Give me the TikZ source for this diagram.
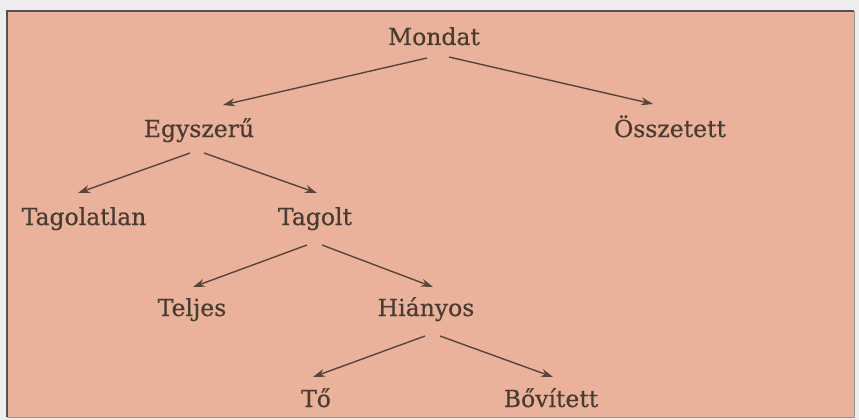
\documentclass[tikz,border=0pt]{standalone}
\usepackage{fontspec}
\newfontfamily\lblfont[FakeBold=0.5]{DejaVu Serif}
\usetikzlibrary{arrows.meta,calc}
\definecolor{outerbg}{RGB}{238,238,240}
\definecolor{panel}{RGB}{234,178,155}
\definecolor{frame}{RGB}{85,82,80}
\definecolor{ink}{RGB}{70,60,50}
\definecolor{arrowink}{RGB}{84,70,60}
\tikzset{
  lbl/.style={anchor=base,inner sep=0pt,text=ink,font=\lblfont\fontsize{23.5}{28}\selectfont},
  conn/.style={draw=arrowink,line width=1.4pt,-{Stealth[length=12pt,width=8pt]}}
}
\begin{document}
\begin{tikzpicture}[x=1pt,y=-1pt]
\fill[outerbg] (0,0) rectangle (859,420);
\useasboundingbox (0,0) rectangle (859,420);
\fill[panel] (7,11) rectangle (854,417);
\draw[frame,line width=2pt] (7,417) -- (7,11) -- (854,11);
\draw[frame!60,line width=1pt] (854,11) -- (854,417) -- (7,417);

\node[lbl] (mondat) at (434,45) {Mondat};
\node[lbl] (egy) at (199,137) {Egyszerű};
\node[lbl] (ossz) at (670,137) {Összetett};
\node[lbl] (tagolatlan) at (84,225) {Tagolatlan};
\node[lbl] (tagolt) at (315,225) {Tagolt};
\node[lbl] (teljes) at (192,316) {Teljes};
\node[lbl] (hianyos) at (426,316) {Hiányos};
\node[lbl] (to) at (316,407) {Tő};
\node[lbl] (bov) at (551,407) {Bővített};

\draw[conn] ($(mondat.base)+(-7,13)$) -- ($(egy.base)+(24,-32)$);
\draw[conn] ($(mondat.base)+(15,12)$) -- ($(ossz.base)+(-17,-33)$);
\draw[conn] ($(egy.base)+(-9,16)$) -- ($(tagolatlan.base)+(-6,-32)$);
\draw[conn] ($(egy.base)+(5,16)$) -- ($(tagolt.base)+(2,-32)$);
\draw[conn] ($(tagolt.base)+(-8,20)$) -- ($(teljes.base)+(1,-29)$);
\draw[conn] ($(tagolt.base)+(7,20)$) -- ($(hianyos.base)+(7,-29)$);
\draw[conn] ($(hianyos.base)+(-1,20)$) -- ($(to.base)+(-3,-30)$);
\draw[conn] ($(hianyos.base)+(14,20)$) -- ($(bov.base)+(2,-30)$);
\end{tikzpicture}
\end{document}
